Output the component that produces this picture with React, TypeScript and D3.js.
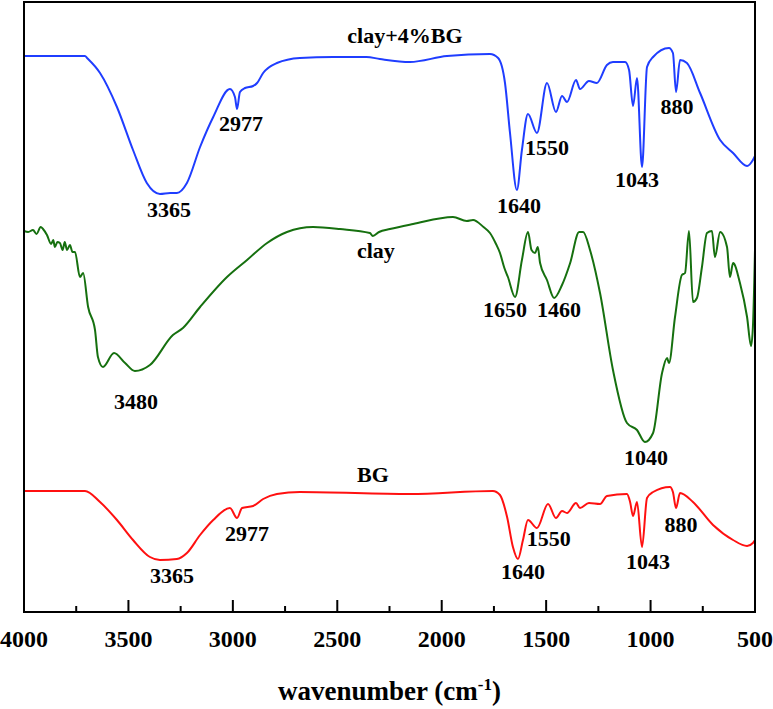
import React, { useEffect, useRef } from 'react';
import * as d3 from 'd3';

const W = 773;
const H = 709;
const margin = { top: 2, right: 18, bottom: 97, left: 24 };

// wavenumber (cm-1) and relative transmittance (a.u., curves offset)
const blueWn = [3998, 3900, 3800, 3708, 3698, 3636, 3555, 3478, 3412, 3349, 3300, 3268, 3220, 3157, 3094, 3014, 2990, 2980, 2966, 2942, 2903, 2884, 2855, 2789, 2679, 2520, 2360, 2296, 2152, 1975, 1769, 1730, 1697, 1673, 1640, 1616, 1587, 1544, 1496, 1453, 1424, 1400, 1357, 1338, 1295, 1257, 1209, 1180, 1122, 1103, 1084, 1065, 1041, 1017, 988, 912, 893, 878, 859, 826, 763, 667, 605, 538, 510, 500];
const blueT = [556, 556, 556, 556, 554, 539, 505, 462, 429, 418, 419, 419, 429, 465, 495, 523, 515, 503, 520, 524, 526, 529, 539, 549, 554, 555, 555, 553, 550, 556, 558, 554, 529, 479, 422, 462, 498, 479, 529, 500, 516, 510, 532, 523, 531, 529, 547, 550, 550, 542, 506, 534, 445, 545, 555, 564, 559, 520, 552, 549, 519, 472, 459, 446, 452, 456];

const greenWn = [4000, 3980, 3957, 3940, 3920, 3909, 3890, 3870, 3860, 3852, 3840, 3828, 3815, 3805, 3794, 3780, 3768, 3756, 3732, 3717, 3693, 3660, 3646, 3622, 3569, 3516, 3469, 3397, 3287, 3239, 3157, 3028, 2932, 2836, 2741, 2616, 2487, 2344, 2330, 2300, 2248, 2137, 1946, 1880, 1850, 1800, 1769, 1740, 1721, 1700, 1683, 1649, 1616, 1587, 1570, 1553, 1540, 1529, 1496, 1462, 1424, 1385, 1342, 1323, 1290, 1242, 1180, 1113, 1065, 1027, 988, 945, 921, 912, 883, 850, 835, 816, 797, 778, 754, 730, 706, 692, 667, 634, 620, 605, 572, 538, 519, 510, 500];
const greenT = [381, 380, 382, 378, 385, 383, 377, 368, 372, 365, 370, 369, 362, 370, 362, 367, 360, 360, 335, 339, 305, 282, 255, 245, 259, 249, 241, 247, 277, 284, 305, 335, 352, 369, 380, 385, 383, 379, 376, 380, 383, 388, 395, 391, 392, 385, 379, 368, 359, 344, 335, 315, 352, 380, 362, 359, 365, 349, 332, 314, 327, 349, 380, 380, 362, 319, 242, 189, 182, 170, 179, 239, 254, 249, 295, 337, 339, 381, 310, 314, 345, 379, 381, 355, 380, 365, 335, 349, 329, 295, 266, 285, 362];

const redWn = [4000, 3708, 3636, 3555, 3478, 3397, 3349, 3268, 3220, 3157, 3094, 3014, 2980, 2956, 2903, 2855, 2789, 2679, 2152, 1755, 1721, 1687, 1659, 1635, 1611, 1587, 1544, 1491, 1453, 1424, 1400, 1357, 1338, 1295, 1242, 1209, 1113, 1098, 1084, 1065, 1041, 1017, 988, 907, 893, 878, 859, 797, 701, 605, 538, 510, 500];
const redT = [121, 121, 110, 92, 72, 55, 52, 53, 59, 77, 92, 104, 94, 104, 106, 113, 118, 120, 118, 121, 117, 95, 65, 53, 72, 92, 84, 108, 94, 101, 99, 109, 104, 109, 108, 116, 118, 110, 96, 110, 65, 114, 120, 125, 120, 104, 119, 110, 87, 72, 66, 69, 72];

const xTicks = [4000, 3500, 3000, 2500, 2000, 1500, 1000, 500];
const xMinorTicks = [3750, 3250, 2750, 2250, 1750, 1250, 750];

// peak labels: text, wavenumber, level (a.u.)
const blueLabels: [string, number, number][] = [
  ['clay+4%BG', 2176, 569], ['2977', 2961, 481], ['3365', 3306, 395], ['1640', 1630, 399],
  ['1550', 1496, 457], ['1043', 1065, 425], ['880', 873, 498]
];
const greenLabels: [string, number, number][] = [
  ['clay', 2315, 354], ['3480', 3464, 203], ['1650', 1697, 295], ['1460', 1438, 295], ['1040', 1022, 147]
];
const redLabels: [string, number, number][] = [
  ['BG', 2329, 130], ['2977', 2932, 71], ['3365', 3291, 29], ['1640', 1611, 33],
  ['1550', 1487, 66], ['1043', 1012, 43], ['880', 854, 80]
];

const FONT = '"Liberation Serif", "Times New Roman", serif';

export default function App() {
  const ref = useRef<SVGSVGElement>(null);

  useEffect(() => {
    const svg = d3.select(ref.current);
    svg.selectAll('*').remove();
    const innerW = W - margin.left - margin.right;
    const innerH = H - margin.top - margin.bottom;

    const x = d3.scaleLinear().domain([4000, 500]).range([margin.left, margin.left + innerW]);
    const y = d3.scaleLinear().domain([0, 610]).range([margin.top + innerH, margin.top]);

    const series = [
      { wn: blueWn, t: blueT, color: '#1f3dff', labels: blueLabels },
      { wn: greenWn, t: greenT, color: '#16700f', labels: greenLabels },
      { wn: redWn, t: redT, color: '#ff1010', labels: redLabels }
    ];

    const line = d3.line<[number, number]>()
      .x(d => x(d[0]))
      .y(d => y(d[1]))
      .curve(d3.curveMonotoneX);

    series.forEach(s => {
      const pts = s.wn.map((w, i) => [w, s.t[i]] as [number, number]).sort((a, b) => b[0] - a[0]);
      svg.append('path')
        .attr('d', line(pts))
        .attr('fill', 'none')
        .attr('stroke', s.color)
        .attr('stroke-width', 2)
        .attr('stroke-linejoin', 'round');
    });

    series.forEach(s => {
      svg.append('g').selectAll('text').data(s.labels).enter().append('text')
        .attr('x', d => x(d[1]))
        .attr('y', d => y(d[2]))
        .attr('text-anchor', 'middle')
        .attr('font-family', FONT)
        .attr('font-weight', 'bold')
        .attr('font-size', 22)
        .attr('fill', '#000')
        .text(d => d[0]);
    });

    // frame
    svg.append('rect')
      .attr('x', margin.left).attr('y', margin.top)
      .attr('width', innerW).attr('height', innerH)
      .attr('fill', 'none').attr('stroke', '#000').attr('stroke-width', 2);

    const bottom = margin.top + innerH;
    svg.append('g').selectAll('line').data(xTicks).enter().append('line')
      .attr('x1', d => x(d)).attr('x2', d => x(d))
      .attr('y1', bottom).attr('y2', bottom - 12)
      .attr('stroke', '#000').attr('stroke-width', 2);
    svg.append('g').selectAll('line').data(xMinorTicks).enter().append('line')
      .attr('x1', d => x(d)).attr('x2', d => x(d))
      .attr('y1', bottom).attr('y2', bottom - 6)
      .attr('stroke', '#000').attr('stroke-width', 2);

    svg.append('g').selectAll('text').data(xTicks).enter().append('text')
      .attr('x', d => x(d))
      .attr('y', bottom + 35)
      .attr('text-anchor', 'middle')
      .attr('font-family', FONT)
      .attr('font-weight', 'bold')
      .attr('font-size', 24)
      .text(d => d);

    const title = svg.append('text')
      .attr('x', margin.left + innerW / 2)
      .attr('y', 700)
      .attr('text-anchor', 'middle')
      .attr('font-family', FONT)
      .attr('font-weight', 'bold')
      .attr('font-size', 27);
    title.append('tspan').text('wavenumber (cm');
    title.append('tspan').attr('font-size', 17).attr('dy', -10).text('-1');
    title.append('tspan').attr('dy', 10).text(')');
  }, []);

  return (
    <svg ref={ref} width={W} height={H}
      style={{ position: 'absolute', left: 0, top: 0, background: '#fff' }} />
  );
}
